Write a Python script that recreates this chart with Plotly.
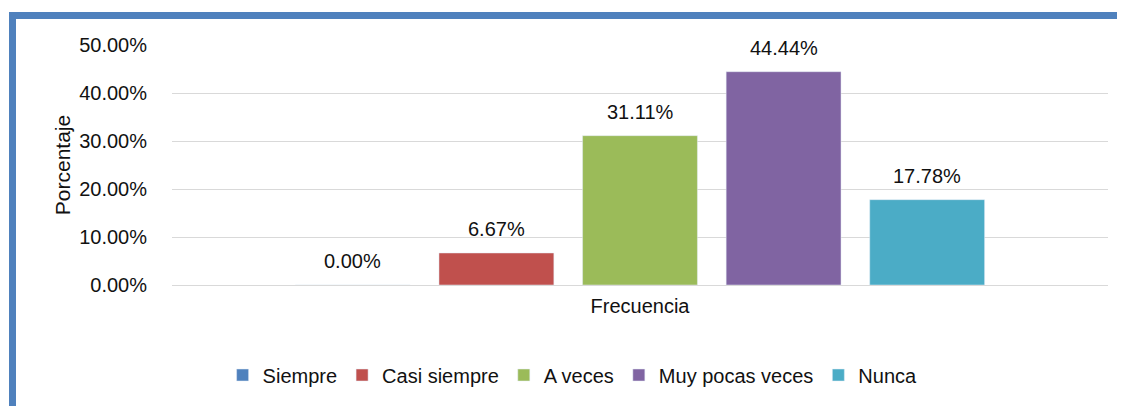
import plotly.graph_objects as go

categories = ["Frecuencia"]
series_names = ["Siempre", "Casi siempre", "A veces", "Muy pocas veces", "Nunca"]
series_values = [0.0, 6.67, 31.11, 44.44, 17.78]
series_colors = ["#4F81BD", "#C0504D", "#9BBB59", "#8064A2", "#4BACC6"]
tick_vals = [0, 10, 20, 30, 40, 50]
tick_text = ["0.00%", "10.00%", "20.00%", "30.00%", "40.00%", "50.00%"]

FONT = "Liberation Sans Narrow, Arial Narrow, Liberation Sans, Arial, sans-serif"
FS = 20
OFF = 8  # page body margin
W, H = 1125, 406
L, R = 172 - OFF, 1125 - (1108 - OFF)
T, B = 45 - OFF, H - (285 - OFF)
pw, ph = W - L - R, H - T - B
BARGAP, GROUPGAP = 0.233, 0.2
n = len(series_names)
slot = pw * (1 - BARGAP) / n

fig = go.Figure()
for name, val, col in zip(series_names, series_values, series_colors):
    fig.add_trace(go.Bar(name=name, x=categories, y=[val], marker_color=col))

for i, val in enumerate(series_values):
    fig.add_annotation(x=categories[0], y=val, xref="x", yref="y", text=f"{val:.2f}%",
                       showarrow=False, yanchor="bottom", yshift=11,
                       xshift=(i - (n - 1) / 2) * slot,
                       font=dict(family=FONT, size=FS, color="#111111"))

def px_x(p):
    return (p - OFF - L) / pw

def px_y(p):
    return (H - B - (p - OFF)) / ph

shapes = [
    dict(type="rect", xref="paper", yref="paper", x0=px_x(9), x1=px_x(1133), y0=px_y(19), y1=px_y(12),
         fillcolor="#4F81BD", line_width=0, layer="above"),
    dict(type="rect", xref="paper", yref="paper", x0=px_x(9), x1=px_x(16), y0=px_y(414), y1=px_y(12),
         fillcolor="#4F81BD", line_width=0, layer="above"),
]

fig.update_layout(
    width=W, height=H, margin=dict(l=L, r=R, t=T, b=B, autoexpand=False),
    paper_bgcolor="white", plot_bgcolor="white",
    barmode="group", bargap=BARGAP, bargroupgap=GROUPGAP,
    font=dict(family=FONT, size=FS, color="#111111"),
    showlegend=True,
    legend=dict(orientation="h", x=0.428, xanchor="center", y=px_y(375), yanchor="middle",
                font=dict(family=FONT, size=FS, color="#111111"), itemwidth=30,
                traceorder="normal"),
    shapes=shapes,
    xaxis=dict(showgrid=False, showline=False, ticks="outside", ticklen=3,
               tickcolor="rgba(0,0,0,0)", tickfont=dict(size=FS)),
    yaxis=dict(range=[0, 50], tickvals=tick_vals, ticktext=tick_text, showgrid=True,
               gridcolor="#D9D9D9", gridwidth=1.3, zeroline=True, zerolinecolor="#D9D9D9",
               zerolinewidth=1.3, showline=False, ticks="outside", ticklen=20, tickcolor="rgba(0,0,0,0)",
               title=dict(text="Porcentaje", font=dict(size=FS + 1), standoff=2),
               tickfont=dict(size=FS)),
)

fig.write_html("out.html")
